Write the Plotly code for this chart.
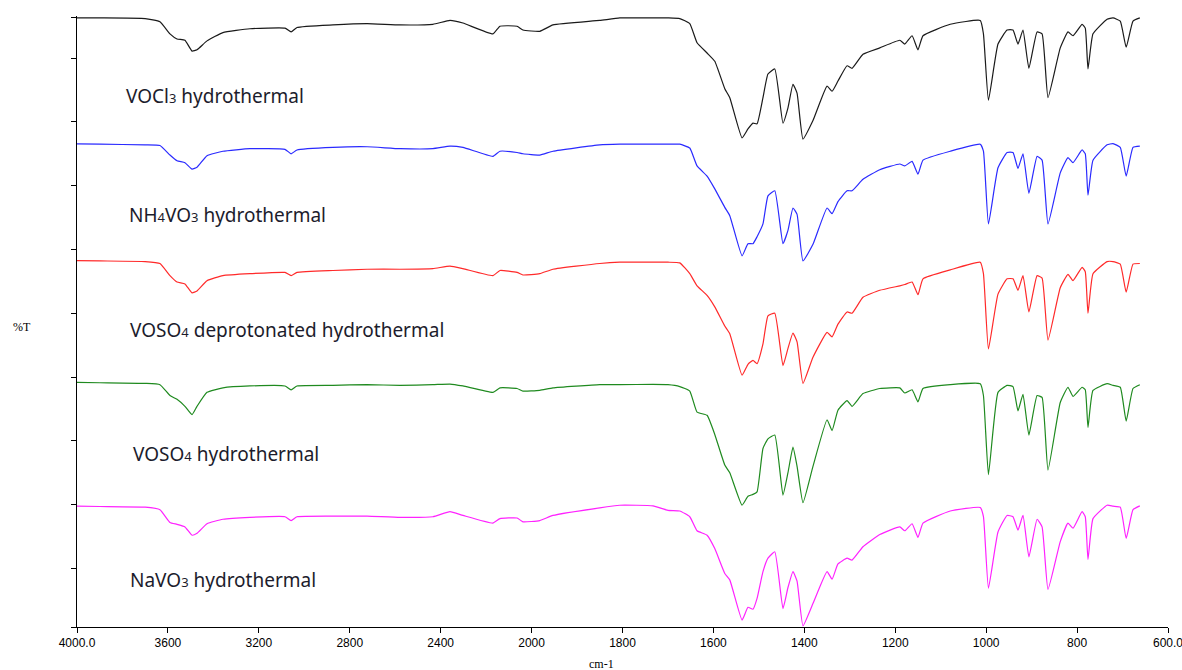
import plotly.graph_objects as go

# ---------------- data ----------------
wavenumber = [4000, 3899, 3700, 3635, 3591, 3560, 3525, 3494, 3472, 3428, 3358, 3239, 3085, 3058, 3032,
              2874, 2724, 2579, 2434, 2359, 2302, 2170, 2139, 2064, 2038, 1982, 1953, 1850, 1806, 1733,
              1700, 1674, 1652, 1636, 1614, 1597, 1575, 1564, 1537, 1524, 1513, 1504, 1491, 1480, 1465,
              1447, 1436, 1425, 1416, 1403, 1381, 1350, 1339, 1326, 1306, 1295, 1271, 1234, 1190, 1179,
              1163, 1150, 1139, 1079, 1013, 1006, 995, 974, 954, 941, 930, 919, 906, 888, 877,
              864, 837, 820, 809, 789, 782, 776, 765, 734, 721, 705, 692, 677, 662]

t_vocl3 = [96.3, 96.3, 96.2, 95.7, 93.8, 93.0, 92.8, 91.1, 91.3, 92.7, 94.0, 94.6, 94.7, 94.1, 94.8,
           95.2, 95.4, 95.2, 95.3, 95.9, 95.5, 93.8, 95.0, 95.0, 94.4, 94.2, 95.2, 95.9, 96.3, 96.3,
           96.3, 96.2, 95.4, 92.4, 90.8, 89.5, 85.2, 83.8, 77.5, 78.9, 79.8, 79.7, 83.8, 87.5, 88.3,
           79.8, 82.2, 85.9, 84.5, 77.3, 80.2, 85.6, 84.8, 86.4, 88.8, 88.4, 90.6, 91.6, 92.8, 92.2,
           93.5, 91.3, 93.5, 95.3, 95.9, 93.8, 83.4, 92.2, 94.4, 94.4, 92.2, 94.4, 88.4, 94.1, 93.8,
           83.8, 91.6, 94.1, 93.5, 95.3, 94.7, 88.3, 93.8, 96.1, 96.3, 95.8, 91.7, 95.8, 96.3]

t_nh4vo3 = [76.55, 76.5, 76.4, 76.3, 74.8, 73.9, 73.6, 72.6, 72.9, 74.7, 75.4, 75.8, 75.7, 75.0, 75.6,
            76.0, 76.1, 75.8, 75.8, 76.2, 76.0, 74.6, 75.4, 75.2, 75.0, 74.8, 75.4, 76.4, 76.5, 76.5,
            76.5, 76.5, 75.9, 73.1, 71.5, 69.5, 66.6, 65.3, 59.0, 60.9, 60.9, 62.0, 64.0, 68.4, 69.2,
            60.9, 63.0, 66.5, 65.5, 58.2, 60.8, 66.5, 65.6, 67.5, 69.2, 69.2, 71.0, 72.5, 73.4, 73.1,
            73.8, 71.8, 74.0, 75.4, 76.5, 75.4, 64.0, 72.8, 75.2, 75.2, 72.7, 75.0, 68.8, 74.6, 74.0,
            64.0, 72.0, 74.4, 73.6, 75.6, 75.0, 68.5, 74.0, 76.4, 76.6, 76.0, 71.5, 76.0, 76.2]

t_voso4_dep = [58.25, 58.2, 58.1, 57.8, 55.9, 54.9, 54.6, 53.2, 53.5, 55.1, 55.9, 56.2, 56.4, 55.9, 56.4,
               56.7, 56.9, 56.9, 57.0, 57.4, 57.0, 55.9, 56.7, 56.4, 56.0, 56.2, 56.9, 57.8, 58.0, 58.0,
               58.0, 57.9, 56.2, 54.3, 52.8, 51.0, 48.0, 46.8, 40.3, 42.0, 42.6, 42.1, 45.2, 49.6, 50.0,
               41.8, 44.5, 46.9, 45.5, 39.0, 43.1, 47.0, 46.3, 48.3, 50.2, 50.0, 52.5, 53.6, 54.3, 54.5,
               54.9, 52.9, 55.4, 56.8, 58.0, 56.2, 44.4, 53.0, 55.4, 55.4, 53.6, 55.9, 50.2, 55.9, 55.5,
               45.8, 54.0, 56.1, 55.1, 57.2, 56.5, 50.0, 56.2, 58.1, 58.1, 57.7, 53.3, 57.7, 57.8]

t_voso4 = [39.15, 39.1, 39.0, 38.8, 37.1, 36.5, 35.4, 34.1, 35.4, 37.6, 38.3, 38.6, 38.6, 38.0, 38.6,
           38.7, 38.8, 38.7, 38.8, 38.9, 38.6, 37.6, 38.3, 38.2, 37.8, 37.9, 38.3, 38.8, 38.8, 38.85,
           38.8, 38.5, 37.8, 34.5, 34.0, 31.0, 26.2, 25.0, 19.9, 21.3, 21.6, 22.0, 28.8, 30.3, 30.9,
           21.5, 25.0, 29.0, 26.0, 20.3, 26.0, 33.3, 31.6, 34.8, 36.3, 35.4, 37.4, 38.2, 38.3, 37.5,
           38.0, 36.1, 38.2, 38.8, 38.95, 37.1, 24.7, 37.6, 38.7, 38.5, 34.7, 37.3, 30.9, 37.1, 36.8,
           25.4, 36.0, 38.4, 36.96, 38.4, 38.0, 32.1, 37.9, 38.95, 38.7, 38.4, 33.1, 38.2, 38.8]

t_navo3 = [19.75, 19.7, 19.6, 19.2, 17.2, 16.9, 16.5, 15.2, 15.5, 17.0, 17.7, 18.0, 18.1, 17.5, 18.1,
           18.2, 18.2, 18.0, 18.1, 18.9, 18.3, 17.1, 17.8, 17.9, 17.3, 17.5, 18.3, 19.5, 19.9, 19.8,
           19.1, 19.0, 18.1, 15.9, 15.2, 13.1, 9.2, 8.2, 1.9, 3.9, 3.6, 5.3, 9.5, 11.6, 12.6,
           3.7, 7.0, 9.5, 8.0, 1.0, 4.5, 9.5, 8.3, 10.7, 11.6, 11.3, 13.4, 15.3, 16.5, 15.9,
           17.0, 14.85, 17.1, 19.0, 19.55, 18.1, 6.9, 15.7, 18.3, 18.1, 16.0, 18.3, 11.8, 17.7, 16.5,
           6.7, 14.2, 17.1, 16.3, 18.9, 18.1, 11.4, 17.8, 19.9, 19.75, 19.6, 14.7, 19.2, 19.8]

series_names = ["VOCl3 hydrothermal", "NH4VO3 hydrothermal", "VOSO4 deprotonated hydrothermal",
                "VOSO4 hydrothermal", "NaVO3 hydrothermal"]
series_values = [t_vocl3, t_nh4vo3, t_voso4_dep, t_voso4, t_navo3]
series_colors = ["#1a1a1a", "#2a2aff", "#ff2a2a", "#1f8a1f", "#ff22ff"]

SUB = "<span style='font-size:13px'>{}</span>"
label_html = ["VOCl" + SUB.format("3") + " hydrothermal",
              "NH" + SUB.format("4") + "VO" + SUB.format("3") + " hydrothermal",
              "VOSO" + SUB.format("4") + " deprotonated hydrothermal",
              "VOSO" + SUB.format("4") + " hydrothermal",
              "NaVO" + SUB.format("3") + " hydrothermal"]
label_wavenumber = [3793, 3780, 3776, 3762, 3776]
label_level = [84.1, 65.4, 47.4, 27.9, 8.2]

tick_wavenumbers = [4000, 3600, 3200, 2800, 2400, 2000, 1800, 1600, 1400, 1200, 1000, 800, 600]
tick_labels = ["4000.0", "3600", "3200", "2800", "2400", "2000", "1800", "1600", "1400", "1200",
               "1000", "800", "600.0"]
y_ticks = [0.81, 10, 20, 30, 40, 50, 60, 70, 80, 90, 96.43]


# instrument-style axis: scale doubles below 2000 cm-1
def axis_pos(w):
    return w if w <= 2000 else 2000 + (w - 2000) / 2.0


xs = [axis_pos(w) for w in wavenumber]

fig = go.Figure()
for name, vals, col in zip(series_names, series_values, series_colors):
    fig.add_trace(go.Scatter(x=xs, y=vals, mode="lines", name=name,
                             line=dict(color=col, width=1.2, shape="spline", smoothing=0.4),
                             showlegend=False))

for txt, w, lv in zip(label_html, label_wavenumber, label_level):
    fig.add_annotation(x=axis_pos(w), y=lv, xref="x", yref="y", text=txt, showarrow=False,
                       xanchor="left", yanchor="middle",
                       font=dict(family="Noto Sans, Open Sans, sans-serif", size=19, color="#1c1c2c"))

fig.add_annotation(x=0.481, y=-0.06, xref="paper", yref="paper", text="cm-1", showarrow=False,
                   xanchor="center", yanchor="middle",
                   font=dict(family="Liberation Serif, serif", size=12, color="#000000"))
fig.add_annotation(x=-0.05, y=0.491, xref="paper", yref="paper", text="%T", showarrow=False,
                   xanchor="center", yanchor="middle",
                   font=dict(family="Liberation Serif, serif", size=12, color="#000000"))

fig.update_layout(
    width=1182, height=670,
    margin=dict(l=77, r=14, t=16, b=43),
    paper_bgcolor="white", plot_bgcolor="white",
    xaxis=dict(range=[axis_pos(4000), axis_pos(600)], automargin=False,
               tickvals=[axis_pos(w) for w in tick_wavenumbers], ticktext=tick_labels,
               showgrid=False, zeroline=False, showline=True, linecolor="black", linewidth=1,
               ticks="outside", ticklen=5, tickcolor="black", ticklabeloverflow="allow",
               tickfont=dict(family="Liberation Sans, Arial, sans-serif", size=12, color="#000000")),
    yaxis=dict(range=[0.81, 96.6], tickvals=y_ticks, showticklabels=False, automargin=False,
               showgrid=False, zeroline=False, showline=True, linecolor="black", linewidth=1,
               ticks="outside", ticklen=5, tickcolor="black"),
)

# remove the default page margin so the 1182x670 figure fills the window exactly
fig.write_html("out.html", config={"responsive": False, "displayModeBar": False},
               post_script="document.body.style.margin='0';document.body.style.overflow='hidden';")
